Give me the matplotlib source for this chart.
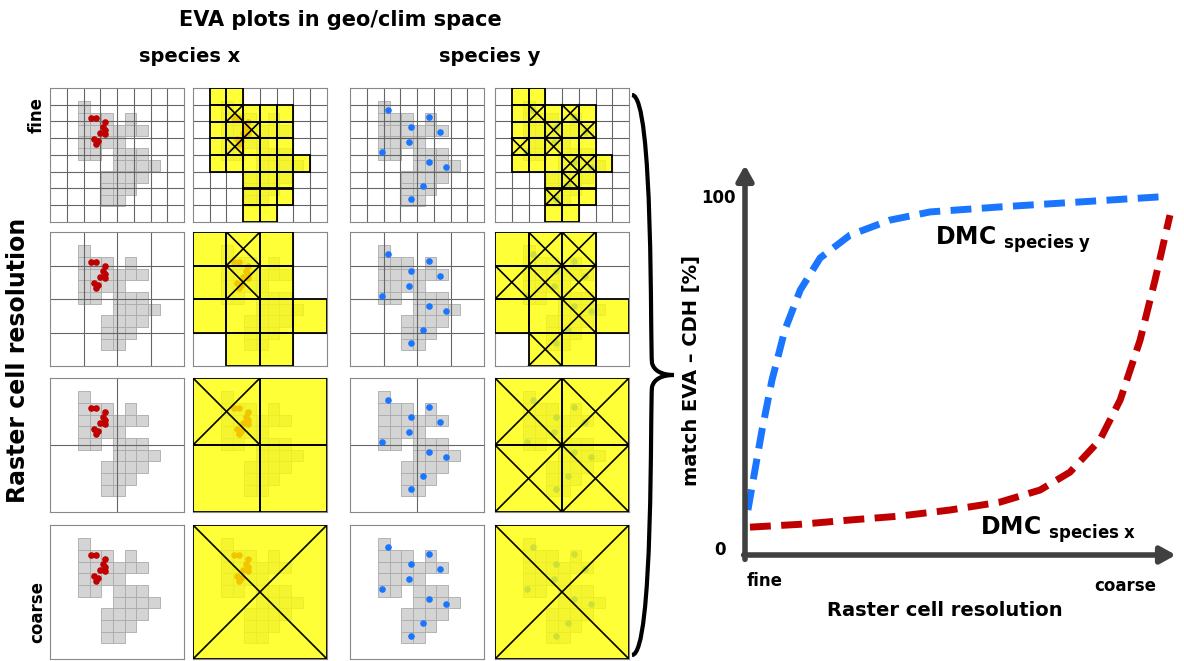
import numpy as np
import matplotlib.pyplot as plt
from matplotlib.patches import Rectangle, PathPatch
from matplotlib.path import Path

W, H = 1184, 661

# gray range shape: rows of occupied unit squares (col start, col end inclusive)
shape_rows = [[(0, 0)], [(0, 2), (4, 4)], [(0, 5)], [(0, 3)], [(0, 1), (3, 5)],
              [(3, 6)], [(2, 5)], [(2, 4)], [(2, 3)]]
shape_x0, shape_y0, sq = 0.21, 0.10, 0.087

# occurrence points (panel fractions, y from top)
pts_x = [(0.303, 0.227), (0.341, 0.227), (0.408, 0.253), (0.393, 0.290), (0.408, 0.316),
         (0.376, 0.336), (0.413, 0.343), (0.332, 0.379), (0.355, 0.399), (0.341, 0.417)]
pts_y = [(0.280, 0.164), (0.591, 0.215), (0.453, 0.290), (0.669, 0.328), (0.441, 0.404),
         (0.240, 0.477), (0.591, 0.553), (0.718, 0.593), (0.545, 0.730), (0.453, 0.831)]

resolutions = [8, 4, 2, 1]
row_names = ["fine", "", "", "coarse"]

# curves of right panel (resolution 0..1, match %)
res_y = [0.007, 0.024, 0.041, 0.065, 0.096, 0.133, 0.181, 0.253, 0.349, 0.446, 0.614, 0.807, 0.997]
match_y = [12.6, 23.8, 35.0, 49.0, 63.0, 74.2, 83.2, 89.6, 93.8, 96.1, 97.5, 98.9, 100.3]
res_x = [0.012, 0.133, 0.253, 0.373, 0.494, 0.614, 0.711, 0.783, 0.855, 0.904, 0.952, 0.988, 1.024]
match_x = [7.8, 8.6, 9.8, 10.9, 12.6, 14.8, 18.2, 23.2, 32.2, 43.4, 60.2, 77.0, 95.2]

fig = plt.figure(figsize=(W / 100, H / 100), dpi=100)


def px_axes(x, y, w, h):
    return fig.add_axes([x / W, 1 - (y + h) / H, w / W, h / H])


squares = []
for r, spans in enumerate(shape_rows):
    for a, b in spans:
        for c in range(a, b + 1):
            squares.append((shape_x0 + c * sq, shape_y0 + r * sq))


def occupied(n, pts=None):
    cells = set()
    if pts is None:
        for sx, sy in squares:
            for cx in range(n):
                for cy in range(n):
                    x0, y0 = cx / n, cy / n
                    if sx < x0 + 1 / n - 1e-3 and sx + sq > x0 + 1e-3 and sy < y0 + 1 / n - 1e-3 and sy + sq > y0 + 1e-3:
                        cells.add((cx, cy))
    else:
        for px, py in pts:
            cells.add((min(int(px * n), n - 1), min(int(py * n), n - 1)))
    return cells


def draw_base(ax, n, pts, col):
    ax.set_xlim(0, 1)
    ax.set_ylim(1, 0)
    ax.set_xticks([])
    ax.set_yticks([])
    for s in ax.spines.values():
        s.set_color('#888888')
    for sx, sy in squares:
        ax.add_patch(Rectangle((sx, sy), sq, sq, fc='#d4d4d4', ec='#aaaaaa', lw=0.6))
    for i in range(1, n):
        ax.axvline(i / n, color='#666666', lw=0.8)
        ax.axhline(i / n, color='#666666', lw=0.8)
    ax.scatter([p[0] for p in pts], [p[1] for p in pts], s=14, color=col, zorder=5)


col_x = [50, 193, 350, 495]
row_y = [88, 232, 378, 525]
size = 134
for ri, n in enumerate(resolutions):
    for si, (pts, col) in enumerate([(pts_x, '#c00000'), (pts_y, '#1a75ff')]):
        ax = px_axes(col_x[2 * si], row_y[ri], size, size)
        draw_base(ax, n, pts, col)
        ax2 = px_axes(col_x[2 * si + 1], row_y[ri], size, size)
        draw_base(ax2, n, pts, col)
        yel = occupied(n)
        crs = occupied(n, pts)
        for cx, cy in yel:
            ax2.add_patch(Rectangle((cx / n, cy / n), 1 / n, 1 / n, fc='#ffff00', alpha=0.78,
                                    ec='none', zorder=6))
        for cx, cy in yel:
            ax2.add_patch(Rectangle((cx / n, cy / n), 1 / n, 1 / n, fc='none', ec='black',
                                    lw=1.3, zorder=7))
        for cx, cy in crs:
            x0, y0, d = cx / n, cy / n, 1 / n
            ax2.plot([x0, x0 + d], [y0, y0 + d], color='black', lw=1.2, zorder=8)
            ax2.plot([x0, x0 + d], [y0 + d, y0], color='black', lw=1.2, zorder=8)
    if row_names[ri]:
        fig.text(37 / W, 1 - (row_y[ri] + size / 2 - (40 if ri == 0 else 0) + (20 if ri == 3 else 0)) / H,
                 row_names[ri], rotation=90, ha='center', va='center', fontsize=12, fontweight='bold')

fig.text(340 / W, 1 - 20 / H, "EVA plots in geo/clim space", ha='center', va='center',
         fontsize=15, fontweight='bold')
fig.text(190 / W, 1 - 57 / H, "species x", ha='center', va='center', fontsize=14, fontweight='bold')
fig.text(490 / W, 1 - 57 / H, "species y", ha='center', va='center', fontsize=14, fontweight='bold')
fig.text(18 / W, 1 - 360 / H, "Raster cell resolution", rotation=90, ha='center', va='center',
         fontsize=17, fontweight='bold')

# curly brace
bx, top, bot, mid = 632, 95, 655, 375
verts = [(bx, top), (bx + 22, top), (bx + 18, mid - 30), (bx + 20, mid - 12),
         (bx + 22, mid - 4), (bx + 30, mid), (bx + 42, mid),
         (bx + 30, mid), (bx + 22, mid + 4), (bx + 20, mid + 12),
         (bx + 18, mid + 30), (bx + 22, bot), (bx, bot)]
verts = [(x / W, 1 - y / H) for x, y in verts]
codes = [Path.MOVETO] + [Path.CURVE4] * 12
fig.add_artist(PathPatch(Path(verts, codes), fc='none', ec='black', lw=3,
                         transform=fig.transFigure))

# right chart
ax = px_axes(745, 198, 415, 357)
ax.set_xlim(0, 1)
ax.set_ylim(0, 100)
ax.axis('off')
ax.plot(res_y, match_y, color='#1a75ff', lw=5, ls=(0, (3, 1.5)), clip_on=False)
ax.plot(res_x, match_x, color='#c00000', lw=5, ls=(0, (3, 1.5)), clip_on=False)
ax.annotate('', xy=(0, 110), xytext=(0, -2), xycoords='data',
            arrowprops=dict(arrowstyle='-|>,head_width=0.5,head_length=0.9', lw=4, color='#404040'),
            annotation_clip=False)
ax.annotate('', xy=(1.045, 0), xytext=(-0.01, 0), xycoords='data',
            arrowprops=dict(arrowstyle='-|>,head_width=0.5,head_length=0.9', lw=4, color='#404040'),
            annotation_clip=False)
fig.text(718 / W, 1 - 198 / H, "100", ha='center', va='center', fontsize=12, fontweight='bold')
fig.text(720 / W, 1 - 550 / H, "0", ha='center', va='center', fontsize=12, fontweight='bold')
fig.text(765 / W, 1 - 581 / H, "fine", ha='center', va='center', fontsize=12, fontweight='bold')
fig.text(1125 / W, 1 - 586 / H, "coarse", ha='center', va='center', fontsize=12, fontweight='bold')
fig.text(945 / W, 1 - 610 / H, "Raster cell resolution", ha='center', va='center',
         fontsize=14, fontweight='bold')
fig.text(692 / W, 1 - 370 / H, "match EVA \u2013 CDH [%]", rotation=90, ha='center', va='center',
         fontsize=14, fontweight='bold')
fig.text(935 / W, 1 - 240 / H, r"DMC $_{\mathbf{species\ y}}$", ha='left', va='center',
         fontsize=17, fontweight='bold')
fig.text(980 / W, 1 - 530 / H, r"DMC $_{\mathbf{species\ x}}$", ha='left', va='center',
         fontsize=17, fontweight='bold')

fig.savefig("out.png", dpi=100)
